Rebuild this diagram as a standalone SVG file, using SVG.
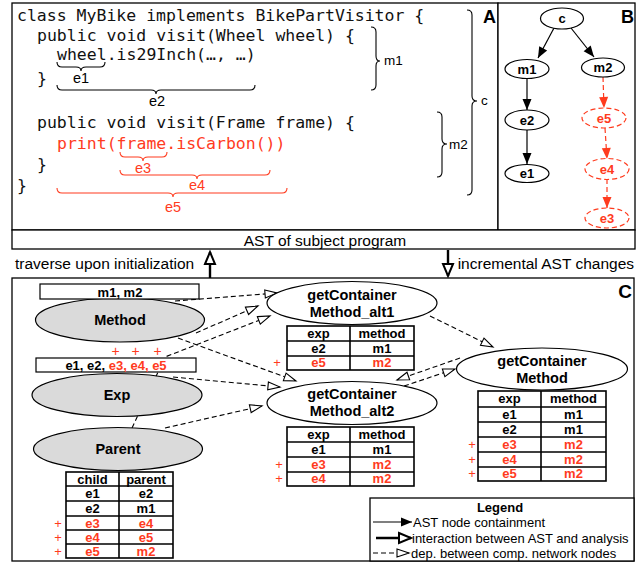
<svg xmlns="http://www.w3.org/2000/svg" width="639" height="563" viewBox="0 0 639 563">
<style>
.code{font-family:"DejaVu Sans Mono","Liberation Mono",monospace;font-size:16.5px;fill:#111}
.s{font-family:"Liberation Sans",Arial,sans-serif;fill:#000}
.b{font-weight:bold}
.red{fill:#ff3b1e}
.frame{fill:#fff;stroke:#000;stroke-width:1.3}
.brk{fill:none;stroke:#000;stroke-width:1.1}
.brr{fill:none;stroke:#ff3b1e;stroke-width:1.1}
.gray{fill:#dadada;stroke:#000;stroke-width:1.2}
.wh{fill:#fff;stroke:#000;stroke-width:1.2}
.tb{fill:none;stroke:#000;stroke-width:1.6}
.dash{fill:none;stroke:#000;stroke-width:1.1;stroke-dasharray:5,3}
.sol{fill:none;stroke:#000;stroke-width:1.2}
.soldr{fill:none;stroke:#ff3b1e;stroke-width:1.2;stroke-dasharray:5,3}
.thick{fill:none;stroke:#000;stroke-width:2.4}
</style>
<defs>
<marker id="fa" markerUnits="userSpaceOnUse" markerWidth="12" markerHeight="10" refX="11" refY="4.5" orient="auto" overflow="visible"><path d="M0,0 L11,4.5 L0,9 z" fill="#000"/></marker>
<marker id="fr" markerUnits="userSpaceOnUse" markerWidth="12" markerHeight="10" refX="11" refY="4.5" orient="auto" overflow="visible"><path d="M0,0 L11,4.5 L0,9 z" fill="#ff3b1e"/></marker>
<marker id="oa" markerUnits="userSpaceOnUse" markerWidth="14" markerHeight="10" refX="12" refY="4.5" orient="auto" overflow="visible"><path d="M0,0.5 L12,4.5 L0,8.5 z" fill="#fff" stroke="#000" stroke-width="1.1"/></marker>
<marker id="ot" markerUnits="userSpaceOnUse" markerWidth="14" markerHeight="12" refX="12" refY="5" orient="auto" overflow="visible"><path d="M0,0 L12,5 L0,10 z" fill="#fff" stroke="#000" stroke-width="2"/></marker>
</defs>
<rect width="639" height="563" fill="#fff"/>

<!-- Panel A -->
<g id="panelA">
<rect class="frame" x="12" y="3" width="486" height="227"/>
<text class="s b" x="496" y="23" font-size="18" text-anchor="end">A</text>
<text class="code" x="17" y="21">class MyBike implements BikePartVisitor {</text>
<text class="code" x="37" y="41">public void visit(Wheel wheel) {</text>
<text class="code" x="57" y="60">wheel.is29Inch(…, …)</text>
<text class="code" x="37" y="84">}</text>
<text class="code" x="37" y="128">public void visit(Frame frame) {</text>
<text class="code red" x="57" y="149">print(frame.isCarbon())</text>
<text class="code" x="37" y="170">}</text>
<text class="code" x="17" y="191">}</text>
<path class="brk" d="M57,62 Q57,67 62,67 L76,67 Q81,67 81,71 Q81,67 86,67 L100,67 Q105,67 105,62"/>
<text class="s" x="81" y="83" font-size="14.5" text-anchor="middle">e1</text>
<path class="brk" d="M57,85 Q57,90 62,90 L151,90 Q156,90 156,94 Q156,90 161,90 L250,90 Q255,90 255,85"/>
<text class="s" x="157" y="106" font-size="14.5" text-anchor="middle">e2</text>
<path class="brk" d="M371,27 Q376,27 376,32 L376,56 Q376,61 380,61 Q376,61 376,66 L376,85 Q376,90 371,90"/>
<text class="s" x="384" y="65" font-size="13.5">m1</text>
<path class="brk" d="M467,10 Q472,10 472,15 L472,96 Q472,101 477,101 Q472,101 472,106 L472,190 Q472,195 467,195"/>
<text class="s" x="481" y="105" font-size="13.5">c</text>
<path class="brk" d="M437,112 Q442,112 442,117 L442,139 Q442,144 447,144 Q442,144 442,149 L442,172 Q442,177 437,177"/>
<text class="s" x="449" y="149" font-size="13.5">m2</text>
<path class="brr" d="M120,152 Q120,157 125,157 L138,157 Q143,157 143,161 Q143,157 148,157 L162,157 Q167,157 167,152"/>
<text class="s red" x="143" y="173" font-size="14.5" text-anchor="middle">e3</text>
<path class="brr" d="M120,170 Q120,175 125,175 L192,175 Q197,175 197,179 Q197,175 202,175 L265,175 Q270,175 270,170"/>
<text class="s red" x="197" y="190" font-size="14.5" text-anchor="middle">e4</text>
<path class="brr" d="M57,188 Q57,193 62,193 L168,193 Q173,193 173,197 Q173,193 178,193 L282,193 Q287,193 287,188"/>
<text class="s red" x="173" y="212" font-size="14.5" text-anchor="middle">e5</text>
</g>

<!-- Panel B -->
<rect class="frame" x="498" y="3" width="137" height="227"/>
<text class="s b" x="634" y="23" font-size="18" text-anchor="end">B</text>
<g id="connectorsB">
<line class="sol" x1="554" y1="28" x2="538" y2="58" marker-end="url(#fa)"/>
<line class="sol" x1="571" y1="28" x2="594" y2="57" marker-end="url(#fa)"/>
<line class="sol" x1="527" y1="78" x2="527" y2="110" marker-end="url(#fa)"/>
<line class="sol" x1="527" y1="130" x2="527" y2="164" marker-end="url(#fa)"/>
<line class="soldr" x1="603" y1="77" x2="604" y2="108" marker-end="url(#fr)"/>
<line class="soldr" x1="605" y1="128" x2="607" y2="159" marker-end="url(#fr)"/>
<line class="soldr" x1="607" y1="179" x2="607" y2="208" marker-end="url(#fr)"/>
</g>
<g id="b-c"><ellipse class="wh" cx="562" cy="18.5" rx="21.5" ry="10.5"/><text class="s b" x="562" y="23" font-size="13" text-anchor="middle">c</text></g>
<g id="b-m1"><ellipse class="wh" cx="527" cy="69" rx="22" ry="9.5"/><text class="s b" x="527" y="73.5" font-size="13" text-anchor="middle">m1</text></g>
<g id="b-m2"><ellipse class="wh" cx="603" cy="67.5" rx="21.5" ry="9.5"/><text class="s b" x="603" y="72" font-size="13" text-anchor="middle">m2</text></g>
<g id="b-e2"><ellipse class="wh" cx="527" cy="120" rx="22" ry="10"/><text class="s b" x="527" y="124.5" font-size="13" text-anchor="middle">e2</text></g>
<g id="b-e1"><ellipse class="wh" cx="527" cy="173.5" rx="22" ry="9"/><text class="s b" x="527" y="178" font-size="13" text-anchor="middle">e1</text></g>
<g id="b-e5"><ellipse cx="604" cy="118" rx="22" ry="10" fill="#fff" stroke="#ff3b1e" stroke-width="1.2" stroke-dasharray="5,3"/><text class="s b red" x="604" y="122.5" font-size="13" text-anchor="middle">e5</text></g>
<g id="b-e4"><ellipse cx="607" cy="169" rx="22" ry="10.5" fill="#fff" stroke="#ff3b1e" stroke-width="1.2" stroke-dasharray="5,3"/><text class="s b red" x="607" y="173.5" font-size="13" text-anchor="middle">e4</text></g>
<g id="b-e3"><ellipse cx="607" cy="218" rx="22" ry="10" fill="#fff" stroke="#ff3b1e" stroke-width="1.2" stroke-dasharray="5,3"/><text class="s b red" x="607" y="222.5" font-size="13" text-anchor="middle">e3</text></g>

<!-- AST bar -->
<g id="ast">
<rect class="frame" x="12" y="230" width="623" height="19"/>
<text class="s" x="325" y="245.5" font-size="15.5" text-anchor="middle">AST of subject program</text>
</g>
<text class="s" x="15" y="269" font-size="15.5">traverse upon initialization</text>
<text class="s" x="634" y="269" font-size="15.5" text-anchor="end">incremental AST changes</text>
<g id="connectorsAST">
<line class="thick" x1="210" y1="278" x2="210" y2="252" marker-end="url(#ot)"/>
<line class="thick" x1="448" y1="250" x2="448" y2="276" marker-end="url(#ot)"/>
</g>

<!-- Panel C -->
<rect class="frame" x="12" y="278" width="622" height="283"/>
<text class="s b" x="632" y="298" font-size="19" text-anchor="end">C</text>

<g id="connectorsC">
<line class="dash" x1="175" y1="301" x2="277" y2="293" marker-end="url(#oa)"/>
<line class="dash" x1="196" y1="333" x2="258" y2="306" marker-end="url(#oa)"/>
<path class="dash" d="M132,428 L165,357 L270,316" marker-end="url(#oa)"/>
<line class="dash" x1="178" y1="338" x2="296" y2="381" marker-end="url(#oa)"/>
<line class="dash" x1="173" y1="377" x2="280" y2="387" marker-end="url(#oa)"/>
<line class="dash" x1="165" y1="428" x2="262" y2="406" marker-end="url(#oa)"/>
<line class="dash" x1="430" y1="316" x2="493" y2="347" marker-end="url(#oa)"/>
<line class="dash" x1="404" y1="386" x2="455" y2="369" marker-end="url(#oa)"/>
<line class="dash" x1="460" y1="358" x2="397" y2="380" marker-end="url(#oa)"/>
</g>

<g id="method">
<ellipse class="gray" cx="120" cy="320" rx="84.5" ry="22"/>
<rect class="wh" x="40" y="284" width="159" height="15"/>
<text class="s b" x="120" y="296.5" font-size="13" text-anchor="middle">m1, m2</text>
<text class="s b" x="120" y="325" font-size="14.5" text-anchor="middle">Method</text>
</g>

<g id="exp">
<ellipse class="gray" cx="117" cy="395" rx="85" ry="21.5"/>
<rect class="wh" x="36" y="358" width="160" height="14"/>
<text class="s b" x="116" y="369.5" font-size="13" text-anchor="middle">e1, e2, <tspan class="red">e3, e4, e5</tspan></text>
<text class="s red" font-size="14"><tspan x="111.5" y="356">+</tspan><tspan x="131.5" y="356">+</tspan><tspan x="153.5" y="356">+</tspan></text>
<text class="s b" x="117" y="400" font-size="14.5" text-anchor="middle">Exp</text>
</g>

<g id="parent">
<ellipse class="gray" cx="118" cy="449" rx="84.5" ry="21.5"/>
<text class="s b" x="118" y="454" font-size="14.5" text-anchor="middle">Parent</text>
<rect class="tb" x="66" y="472" width="107" height="86"/>
<path class="tb" d="M119,472 V558 M66,486 H173 M66,501 H173 M66,516 H173 M66,530 H173 M66,544 H173"/>
<g class="s b" font-size="13" text-anchor="middle">
<text x="92.5" y="483.5">child</text><text x="146" y="483.5">parent</text>
<text x="92.5" y="498">e1</text><text x="146" y="498">e2</text>
<text x="92.5" y="513">e2</text><text x="146" y="513">m1</text>
<text class="red" x="92.5" y="527.5">e3</text><text class="red" x="146" y="527.5">e4</text>
<text class="red" x="92.5" y="541.5">e4</text><text class="red" x="146" y="541.5">e5</text>
<text class="red" x="92.5" y="555.5">e5</text><text class="red" x="146" y="555.5">m2</text>
</g>
<g class="s red" font-size="13" text-anchor="middle">
<text x="58" y="527.5">+</text><text x="58" y="541.5">+</text><text x="58" y="555.5">+</text>
</g>
</g>

<g id="alt1">
<ellipse class="wh" cx="352" cy="303" rx="85" ry="21.5"/>
<text class="s b" x="352" y="300" font-size="14.5" text-anchor="middle">getContainer</text>
<text class="s b" x="352" y="317" font-size="14.5" text-anchor="middle">Method_alt1</text>
<rect class="tb" x="287" y="326" width="127" height="44"/>
<path class="tb" d="M350,326 V370 M287,341 H414 M287,356 H414"/>
<g class="s b" font-size="13" text-anchor="middle">
<text x="318.5" y="337.5">exp</text><text x="382" y="337.5">method</text>
<text x="318.5" y="352.5">e2</text><text x="382" y="352.5">m1</text>
<text class="red" x="318.5" y="367">e5</text><text class="red" x="382" y="367">m2</text>
</g>
<text class="s red" x="277" y="367" font-size="13" text-anchor="middle">+</text>
</g>

<g id="alt2">
<ellipse class="wh" cx="352" cy="403" rx="85" ry="21.5"/>
<text class="s b" x="352" y="399" font-size="14.5" text-anchor="middle">getContainer</text>
<text class="s b" x="352" y="416" font-size="14.5" text-anchor="middle">Method_alt2</text>
<rect class="tb" x="287" y="427" width="127" height="59"/>
<path class="tb" d="M350,427 V486 M287,442 H414 M287,457 H414 M287,472 H414"/>
<g class="s b" font-size="13" text-anchor="middle">
<text x="318.5" y="438.5">exp</text><text x="382" y="438.5">method</text>
<text x="318.5" y="453.5">e1</text><text x="382" y="453.5">m1</text>
<text class="red" x="318.5" y="468.5">e3</text><text class="red" x="382" y="468.5">m2</text>
<text class="red" x="318.5" y="483">e4</text><text class="red" x="382" y="483">m2</text>
</g>
<g class="s red" font-size="13" text-anchor="middle">
<text x="279" y="468.5">+</text><text x="279" y="483">+</text>
</g>
</g>

<g id="gcm">
<ellipse class="wh" cx="542" cy="369" rx="85.5" ry="21"/>
<text class="s b" x="542" y="366" font-size="14.5" text-anchor="middle">getContainer</text>
<text class="s b" x="542" y="383" font-size="14.5" text-anchor="middle">Method</text>
<rect class="tb" x="478" y="391" width="128" height="90"/>
<path class="tb" d="M541,391 V481 M478,407 H606 M478,422 H606 M478,437 H606 M478,452 H606 M478,467 H606"/>
<g class="s b" font-size="13" text-anchor="middle">
<text x="509.5" y="403">exp</text><text x="573.5" y="403">method</text>
<text x="509.5" y="418.5">e1</text><text x="573.5" y="418.5">m1</text>
<text x="509.5" y="433.5">e2</text><text x="573.5" y="433.5">m1</text>
<text class="red" x="509.5" y="448.5">e3</text><text class="red" x="573.5" y="448.5">m2</text>
<text class="red" x="509.5" y="463.5">e4</text><text class="red" x="573.5" y="463.5">m2</text>
<text class="red" x="509.5" y="478">e5</text><text class="red" x="573.5" y="478">m2</text>
</g>
<g class="s red" font-size="13" text-anchor="middle">
<text x="472" y="448.5">+</text><text x="472" y="463.5">+</text><text x="472" y="478">+</text>
</g>
</g>

<g id="legend">
<rect class="frame" x="370" y="498" width="264" height="63"/>
<text class="s b" x="500" y="512" font-size="13" text-anchor="middle">Legend</text>
<line class="sol" x1="373" y1="522" x2="412" y2="522" marker-end="url(#fa)"/>
<text class="s" x="413" y="526.5" font-size="13">AST node containment</text>
<line class="thick" x1="376" y1="538" x2="411" y2="538" marker-end="url(#ot)"/>
<text class="s" x="412" y="542.5" font-size="13">interaction between AST and analysis</text>
<line class="dash" x1="373" y1="553" x2="409" y2="553" marker-end="url(#oa)"/>
<text class="s" x="411" y="557.5" font-size="13">dep. between comp. network nodes</text>
</g>
</svg>
